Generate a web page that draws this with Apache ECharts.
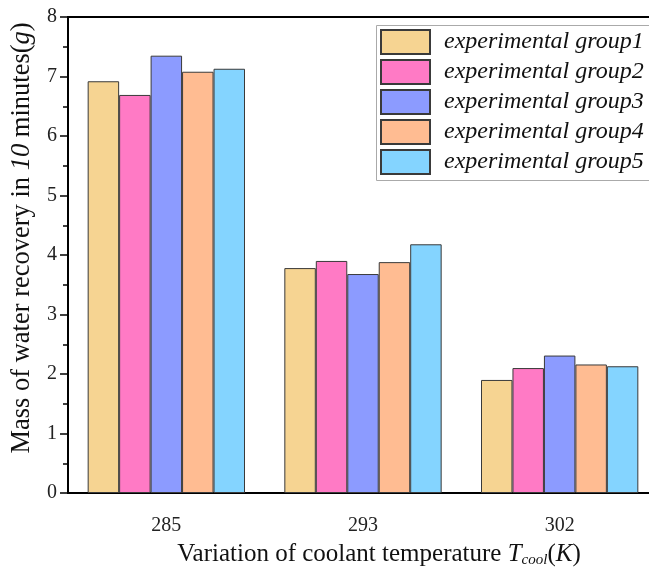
<!DOCTYPE html>
<html>
<head>
    <meta charset="UTF-8">
    <title>Mass of water recovery</title>
    <script src="https://cdn.jsdelivr.net/npm/echarts@6/dist/echarts.min.js"></script>
    <style>
        html, body { margin: 0; padding: 0; background: #fff; }
        #chart { width: 649px; height: 567px; }
    </style>
</head>
<body>
<div id="chart"></div>
<script type="text/javascript">
    // 数据
    var temps = ['285', '293', '302'];
    var groupNames = ['experimental group1', 'experimental group2', 'experimental group3', 'experimental group4', 'experimental group5'];
    var group1 = [6.92, 3.78, 1.90];
    var group2 = [6.69, 3.90, 2.10];
    var group3 = [7.35, 3.68, 2.31];
    var group4 = [7.08, 3.88, 2.16];
    var group5 = [7.13, 4.18, 2.13];
    var colors = ['#F6D492', '#FF7AC5', '#8C9BFF', '#FFBC92', '#84D4FF'];

    var serif = 'Liberation Serif';
    var myChart = echarts.init(document.getElementById('chart'));

    var allGroups = [group1, group2, group3, group4, group5];
    var series = allGroups.map(function (g, i) {
        return {
            name: groupNames[i],
            type: 'bar',
            data: g,
            barGap: 0,
            barCategoryGap: '20%',
            itemStyle: {
                color: colors[i],
                borderColor: '#3a3a3a',
                borderWidth: 1
            }
        };
    });

    var option = {
        animation: false,
        // 图例外框（右侧被画布裁掉）
        graphic: [{
            type: 'rect',
            z: 100,
            shape: { x: 376.5, y: 25.5, width: 320, height: 155 },
            style: { fill: 'none', stroke: '#aaa', lineWidth: 1 }
        }],
        grid: {
            left: 68,
            width: 590,   // 绘图区右侧超出画布
            top: 17,
            bottom: 74,
            outerBoundsMode: 'none',
            show: true,
            borderColor: '#000',
            borderWidth: 2
        },
        legend: {
            orient: 'vertical',
            left: 376,
            top: 25,
            itemWidth: 49,
            itemHeight: 24,
            itemGap: 4,
            icon: 'rect',
            padding: [4, 4, 5, 4],
            textStyle: {
                fontFamily: serif,
                fontStyle: 'italic',
                fontSize: 24,
                color: '#111',
                padding: [0, 0, 0, 9]
            },
            data: groupNames
        },
        xAxis: [{
            type: 'category',
            data: temps,
            position: 'bottom',
            axisLine: { lineStyle: { color: '#000', width: 2 } },
            axisTick: { alignWithLabel: true, length: 9, lineStyle: { color: '#000', width: 1.5 } },
            axisLabel: { fontFamily: serif, fontSize: 20, color: '#222', margin: 23 },
            name: '{n|Variation of coolant temperature }{i|T}{s|cool}{n|(}{i|K}{n|)}',
            nameLocation: 'middle',
            nameGap: 48,
            nameMoveOverlap: false,
            nameTextStyle: {
                padding: [0, 0, 0, 32],
                rich: {
                    n: { fontFamily: serif, fontSize: 25, color: '#111' },
                    i: { fontFamily: serif, fontSize: 25, fontStyle: 'italic', color: '#111' },
                    s: { fontFamily: serif, fontSize: 15, fontStyle: 'italic', color: '#111', verticalAlign: 'bottom', padding: [12, 0, 0, 0] }
                }
            }
        }, {
            type: 'category',
            data: temps,
            position: 'bottom',
            axisLine: { show: false },
            axisTick: { length: 4, lineStyle: { color: '#000', width: 1.5 } },
            axisLabel: { show: false }
        }],
        yAxis: {
            type: 'value',
            min: 0,
            max: 8,
            interval: 1,
            axisLine: { show: true, lineStyle: { color: '#000', width: 2 } },
            axisTick: { show: true, length: 8, lineStyle: { color: '#000', width: 1.5 } },
            minorTick: { show: true, splitNumber: 2, length: 5, lineStyle: { color: '#000', width: 1.5 } },
            splitLine: { show: false },
            axisLabel: { fontFamily: serif, fontSize: 20, color: '#222', margin: 11 },
            name: '{n|Mass of water recovery in }{i|10}{n| minutes(}{i|g}{n|)}',
            nameLocation: 'middle',
            nameGap: 32,
            nameMoveOverlap: false,
            nameTextStyle: {
                padding: [0, 0, 0, 34],
                rich: {
                    n: { fontFamily: serif, fontSize: 26.5, color: '#111' },
                    i: { fontFamily: serif, fontSize: 26.5, fontStyle: 'italic', color: '#111' }
                }
            }
        },
        series: series
    };
    myChart.setOption(option);
</script>
</body>
</html>
